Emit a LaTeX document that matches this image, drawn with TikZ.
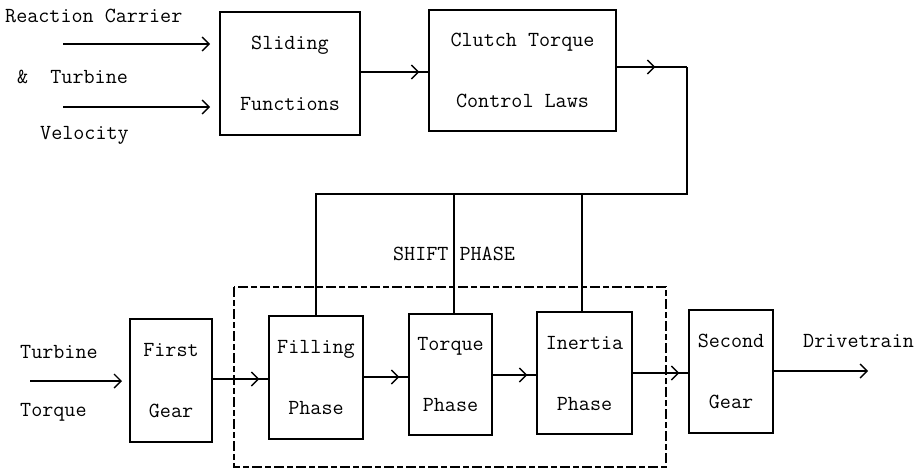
\documentclass[tikz,border=0pt]{standalone}
\usepackage{fontspec}
\usetikzlibrary{arrows.meta,decorations.markings}
\tikzset{
  lbl/.style={font=\ttfamily\fontsize{21.5}{26}\selectfont, inner sep=0pt},
  blk/.style={draw, line width=1.4pt, align=center, inner sep=0pt,
    font=\ttfamily\fontsize{21.5}{61}\selectfont},
  wire/.style={line width=1.4pt},
  tipped/.style={line width=1.4pt, -{Straight Barb[length=7pt,width=14pt,line width=1.4pt]}},
  flow/.style={line width=1.4pt, postaction={decorate},
    decoration={markings, mark=at position {-9pt} with {\arrow{Straight Barb[length=7pt,width=14pt,line width=1.4pt]}}}},
  midflow/.style={line width=1.4pt, postaction={decorate},
    decoration={markings, mark=at position 0.55 with {\arrow{Straight Barb[length=7pt,width=14pt,line width=1.4pt]}}}},
  groupbox/.style={draw, line width=1.1pt, dash pattern=on 10pt off 3pt on 6pt off 3pt}
}
\begin{document}
\begin{tikzpicture}[x=1pt,y=-1pt]
\useasboundingbox (0,0) rectangle (918,474);

% top row
\node[blk, minimum width=140pt, minimum height=123pt] (slide) at (290,73.5) {Sliding\\Functions};
\node[blk, minimum width=187pt, minimum height=121pt] (clutch) at (522.5,70.5) {Clutch Torque\\Control Laws};

% inputs
\node[lbl, anchor=west] (rc) at (5,16) {Reaction Carrier};
\node[lbl, anchor=west] (tb) at (17,77) {\&~~Turbine};
\node[lbl, anchor=west] (vel) at (40,135) {Velocity};
\coordinate (in1s) at (63,44);
\coordinate (in1e) at (210,44);
\coordinate (in2s) at (63,107);
\coordinate (in2e) at (210,107);
\draw[tipped] (in1s) -- (in1e);
\draw[tipped] (in2s) -- (in2e);
\draw[flow] (slide.east |- 0,72) -- (clutch.west |- 0,72);

% feedback path
\coordinate (fbTop) at (687,67);
\coordinate (fbR) at (687,194);
\coordinate (fbL) at (316,194);
\coordinate (fbT) at (454,194);
\coordinate (fbI) at (582,194);
\draw[midflow] (clutch.east |- fbTop) -- (fbTop);

% bottom row
\node[blk, minimum width=82pt, minimum height=123pt] (first) at (171,380.5) {First\\Gear};
\node[blk, minimum width=94pt, minimum height=123pt] (fill) at (316,377.5) {Filling\\Phase};
\node[blk, minimum width=83pt, minimum height=121pt] (torq) at (450.5,374.5) {Torque\\Phase};
\node[blk, minimum width=95pt, minimum height=122pt] (inert) at (584.5,373) {Inertia\\Phase};
\node[blk, minimum width=84pt, minimum height=123pt] (second) at (731,371.5) {Second\\Gear};

\draw[wire] (fbTop) -- (fbR) -- (fbL) -- (fill.north);
\draw[wire] (fbT) -- (fbT |- torq.north);
\draw[wire] (fbI) -- (fbI |- inert.north);

\node[lbl] (shift) at (454,254) {SHIFT PHASE};

% dashed group
\draw[groupbox] (234,287) rectangle (666,467);

\node[lbl, anchor=west] (tt) at (20,352) {Turbine};
\node[lbl, anchor=west] (tq) at (20,412) {Torque};
\coordinate (tis) at (30,381);
\coordinate (tie) at (122,381);
\draw[tipped] (tis) -- (tie);

\draw[flow] (first.east |- 0,379) -- (fill.west |- 0,379);
\draw[flow] (fill.east |- 0,377) -- (torq.west |- 0,377);
\draw[flow] (torq.east |- 0,375) -- (inert.west |- 0,375);
\draw[flow] (inert.east |- 0,373) -- (second.west |- 0,373);

\node[lbl, anchor=west] (dt) at (803,341) {Drivetrain};
\coordinate (dte) at (868,371);
\draw[tipped] (second.east |- dte) -- (dte);
\end{tikzpicture}
\end{document}
